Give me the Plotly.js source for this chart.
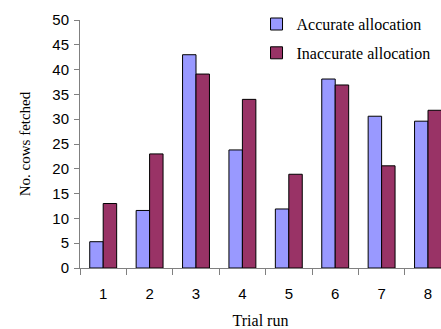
<!DOCTYPE html>
<html><head><meta charset="utf-8">
<script src="https://cdn.plot.ly/plotly-3.0.1.min.js"></script>
<style>html,body{margin:0;padding:0;background:#fff;}</style>
</head><body>
<div id="chart" style="width:441px;height:329px;"></div>
<script>
const trials = ['1','2','3','4','5','6','7','8'];
const accurate = [5.3, 11.6, 43.0, 23.8, 11.9, 38.1, 30.6, 29.6];
const inaccurate = [13.0, 23.0, 39.1, 34.0, 18.9, 36.9, 20.6, 31.8];
const seriesNames = ['Accurate allocation', 'Inaccurate allocation'];

const traces = [
  {type:'bar', x:trials, y:accurate, name:seriesNames[0], legendgroup:'a',
   marker:{color:'#9999FF', line:{color:'#000', width:1}}},
  {type:'bar', x:trials, y:inaccurate, name:seriesNames[1], legendgroup:'b',
   marker:{color:'#993366', line:{color:'#000', width:1}}}
];
const layout = {
  width:441, height:329,
  margin:{l:80, r:0, t:20, b:61, pad:0},
  paper_bgcolor:'#fff', plot_bgcolor:'#fff',
  barmode:'group', bargap:0.42, bargroupgap:0,
  font:{family:'Liberation Sans, Arial', size:15, color:'#000'},
  xaxis:{type:'category', range:[-0.5, 7.28], showline:true, linecolor:'#808080', linewidth:1,
    ticks:'outside', tickson:'boundaries', ticklen:6, tickcolor:'#808080',
    showgrid:false, zeroline:false, tickfont:{size:15}, ticklabelstandoff:12,
    title:{text:'Trial run', font:{family:'Liberation Serif, Times New Roman', size:16}, standoff:15}},
  yaxis:{range:[0,50], dtick:5, showline:true, linecolor:'#808080', linewidth:1,
    ticks:'outside', ticklen:5, tickcolor:'#808080', showgrid:false, zeroline:false,
    tickfont:{size:15}, ticklabelstandoff:2,
    title:{text:'No. cows fetched', font:{family:'Liberation Serif, Times New Roman', size:15}, standoff:18}},
  showlegend:true,
  legend:{x:0.489, y:1.052, xanchor:'left', yanchor:'top', traceorder:'grouped', tracegroupgap:5,
    font:{family:'Liberation Serif, Times New Roman', size:16}, bgcolor:'rgba(0,0,0,0)'}
};
Plotly.newPlot('chart', traces, layout, {displayModeBar:false, staticPlot:true});
</script>
</body></html>
